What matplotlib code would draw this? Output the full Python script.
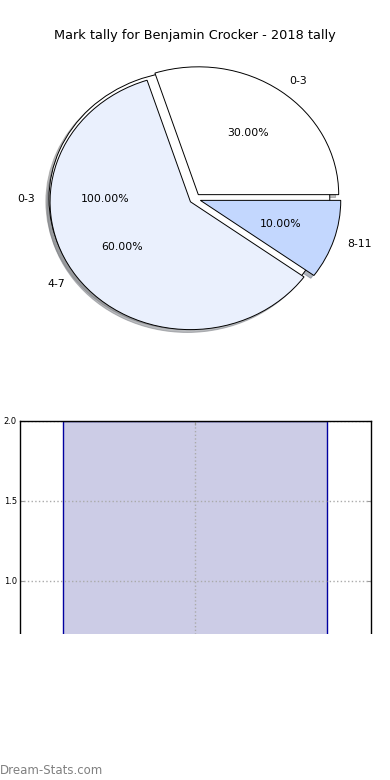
import matplotlib
matplotlib.use("Agg")
import matplotlib.pyplot as plt
from matplotlib.patches import Rectangle

# data
title_txt = "Mark tally for Benjamin Crocker - 2018 tally"
total_labels = ["0-3"]
total_values = [1]
band_labels = ["0-3", "4-7", "8-11"]
band_values = [30, 60, 10]
band_colors = ["#ffffff", "#eaf0fd", "#c3d7fe"]
bar_values = [2]
bar_pos = [0]
yticks = [1.0, 1.5, 2.0]

fig = plt.figure(figsize=(3.9, 7.8), dpi=100)
fig.suptitle(title_txt, fontsize=9.3, y=0.963)

shadow = {"ox": -0.016, "oy": -0.016, "shade": 0.5}
ax = fig.add_axes([0.05, 0.5403, 0.9, 0.4097])
ax.pie(total_values, labels=total_labels, explode=[0.04], colors=["#ffffff"],
       autopct="%.2f%%", shadow=shadow, startangle=0,
       textprops={"fontsize": 7.8},
       wedgeprops={"edgecolor": "black", "linewidth": 0.7})
ax.pie(band_values, labels=band_labels, explode=[0.04] * 3, colors=band_colors,
       autopct="%.2f%%", shadow=shadow, startangle=0,
       textprops={"fontsize": 7.8},
       wedgeprops={"edgecolor": "black", "linewidth": 0.7})
ax.set_aspect("auto")
ax.set_xlim(-1.25, 1.25)
ax.set_ylim(-1.25, 1.25)

bx = fig.add_axes([0.05, 0.05, 0.9, 0.4103])
bx.bar(bar_pos, bar_values, width=0.75, color="#cccce6",
       edgecolor="#0000a0", linewidth=1.0)
bx.set_xlim(-0.5, 0.5)
bx.set_ylim(0, 2.0)
bx.set_yticks(yticks)
bx.set_xticks([0])
bx.set_xticklabels([])
bx.tick_params(direction="in", length=3, labelsize=6, top=True, right=True,
               color="#999999", pad=2)
bx.set_axisbelow(False)
bx.grid(True, linestyle=":", color="#aaaaaa", linewidth=1.0)
for s in bx.spines.values():
    s.set_linewidth(1.0)
    s.set_zorder(6)

# white cover over lower part of the chart
fig.add_artist(Rectangle((0, 0), 1, 146 / 780, transform=fig.transFigure,
                         facecolor="white", edgecolor="none", zorder=10))
fig.text(0.0, 0.004, "Dream-Stats.com", fontsize=8.5, color="#808080",
         ha="left", va="bottom", zorder=11)

fig.savefig("out.png", dpi=100)
